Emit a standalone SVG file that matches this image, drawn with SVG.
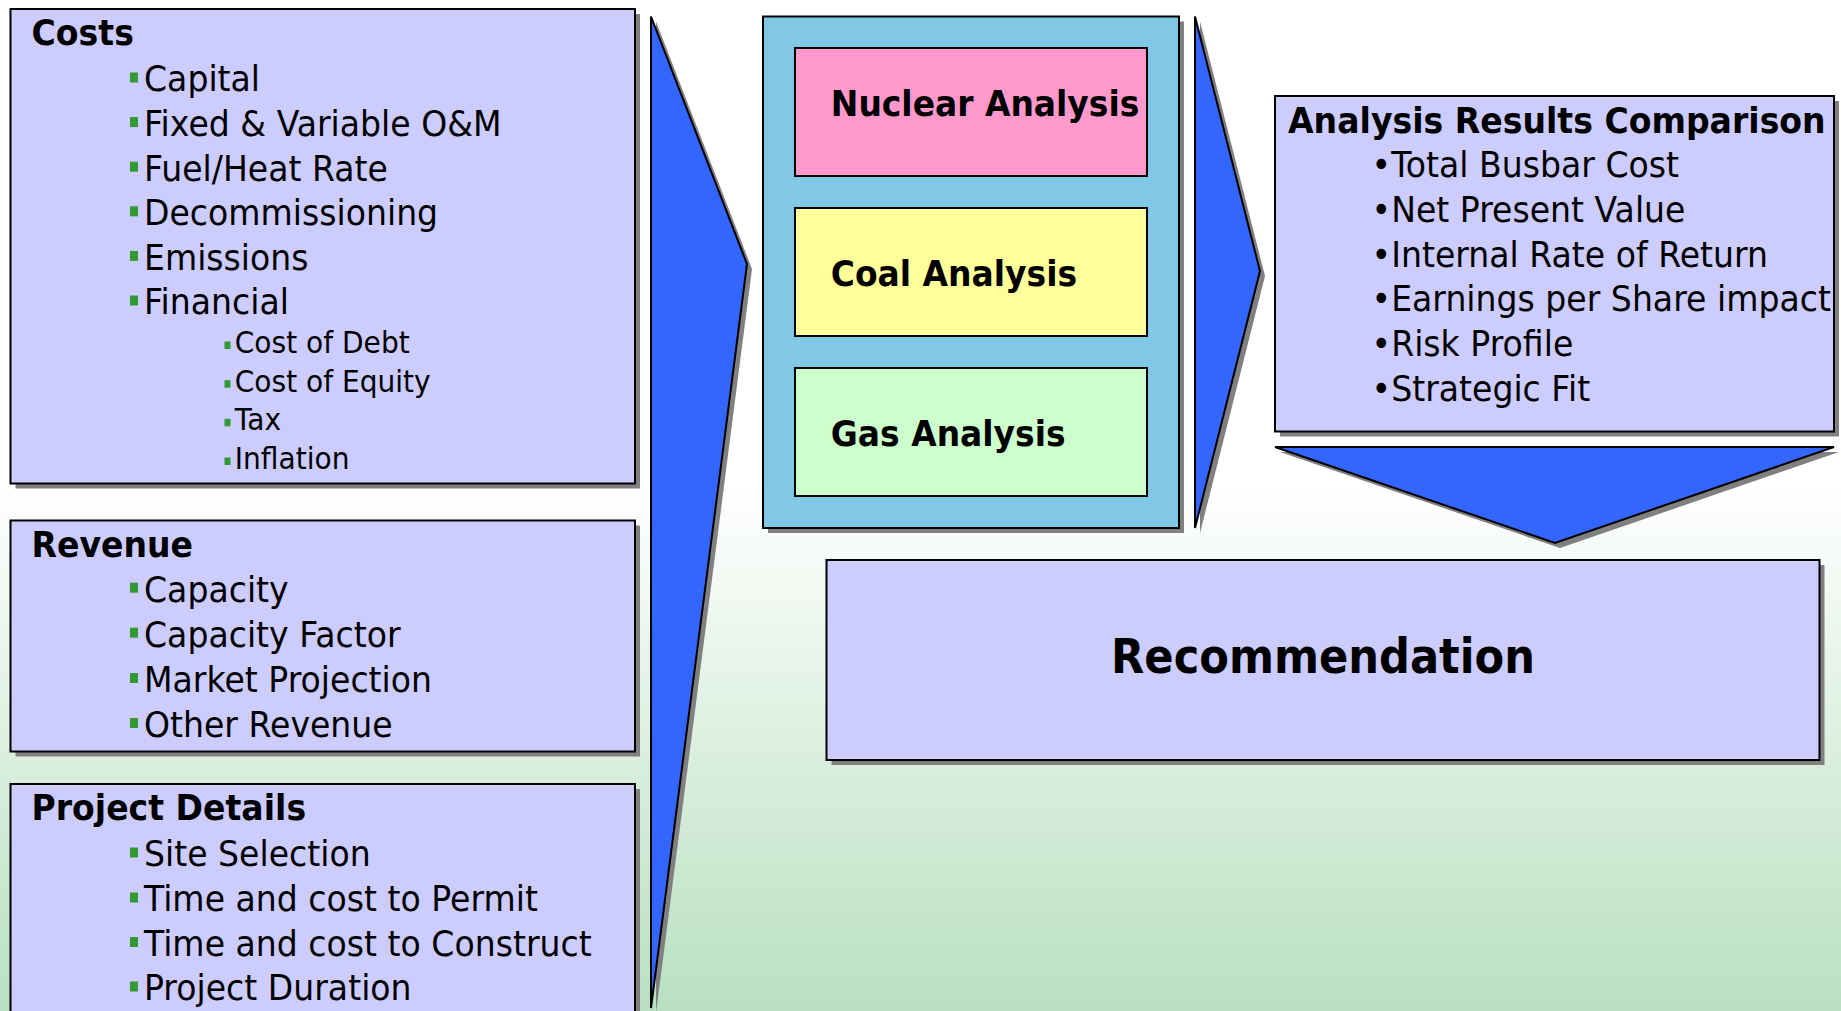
<svg xmlns="http://www.w3.org/2000/svg" width="1841" height="1011" viewBox="0 0 1841 1011">
<defs>
<linearGradient id="bg" x1="0" y1="0" x2="0" y2="1">
<stop offset="0" stop-color="#FFFFFF"/>
<stop offset="0.48" stop-color="#FFFFFF"/>
<stop offset="1" stop-color="#B8E0C0"/>
</linearGradient>
</defs>
<style>
.box{fill:#CCCCFF;stroke:#000;stroke-width:2}
.sh{fill:#808080}
.arr{fill:#3366FF;stroke:#000;stroke-width:2;stroke-linejoin:miter}
.t{font-family:"DejaVu Sans","Verdana",sans-serif;font-size:36px;fill:#000}
.b{font-weight:bold}
.s{font-size:30.5px}
.big{font-size:48px;font-weight:bold}
.bul{fill:#339933}
</style>
<rect x="0" y="0" width="1841" height="1011" fill="url(#bg)"/>

<g id="connectors">
<polygon class="sh" points="656,21.5 752,269 656,1013"/>
<polygon class="arr" points="651,16.5 747,264 651,1008"/>
<polygon class="sh" points="1200,21.5 1265,276 1200,533"/>
<polygon class="arr" points="1195,16.5 1260,271 1195,528"/>
<polygon class="sh" points="1280,452 1839,452 1560,548"/>
<polygon class="arr" points="1275,447 1834,447 1555,543"/>
</g>

<g id="costs">
<rect class="sh" x="15.5" y="14" width="624.5" height="474.5"/>
<rect class="box" x="10.5" y="9" width="624.5" height="474.5"/>
<rect class="bul" x="130" y="72.5" width="8" height="10"/>
<rect class="bul" x="130" y="117.1" width="8" height="10"/>
<rect class="bul" x="130" y="161.7" width="8" height="10"/>
<rect class="bul" x="130" y="206.3" width="8" height="10"/>
<rect class="bul" x="130" y="250.9" width="8" height="10"/>
<rect class="bul" x="130" y="295.5" width="8" height="10"/>
<rect class="bul" x="224.5" y="341.5" width="6" height="7.5"/>
<rect class="bul" x="224.5" y="380.2" width="6" height="7.5"/>
<rect class="bul" x="224.5" y="418.8" width="6" height="7.5"/>
<rect class="bul" x="224.5" y="457.5" width="6" height="7.5"/>
<g transform="scale(0.92,1)">
<text class="t b" x="34.3" y="45">Costs</text>
<text class="t" x="156.5" y="91.5">Capital</text>
<text class="t" x="156.5" y="136.1">Fixed &amp; Variable O&amp;M</text>
<text class="t" x="156.5" y="180.7">Fuel/Heat Rate</text>
<text class="t" x="156.5" y="225.3">Decommissioning</text>
<text class="t" x="156.5" y="269.9">Emissions</text>
<text class="t" x="156.5" y="314.5">Financial</text>
<text class="t s" x="255.2" y="353">Cost of Debt</text>
<text class="t s" x="255.2" y="391.7">Cost of Equity</text>
<text class="t s" x="255.2" y="430.3">Tax</text>
<text class="t s" x="255.2" y="469">Inflation</text>
</g>
</g>

<g id="revenue">
<rect class="sh" x="15.5" y="525.5" width="624.5" height="231"/>
<rect class="box" x="10.5" y="520.5" width="624.5" height="231"/>
<rect class="bul" x="130" y="582.7" width="8" height="10"/>
<rect class="bul" x="130" y="627.7" width="8" height="10"/>
<rect class="bul" x="130" y="673" width="8" height="10"/>
<rect class="bul" x="130" y="718" width="8" height="10"/>
<g transform="scale(0.92,1)">
<text class="t b" x="34.2" y="556.7">Revenue</text>
<text class="t" x="156.5" y="601.7">Capacity</text>
<text class="t" x="156.5" y="646.7">Capacity Factor</text>
<text class="t" x="156.5" y="692">Market Projection</text>
<text class="t" x="156.5" y="737">Other Revenue</text>
</g>
</g>

<g id="project-details">
<rect class="sh" x="15.5" y="789" width="624.5" height="240"/>
<rect class="box" x="10.5" y="784" width="624.5" height="240"/>
<rect class="bul" x="130" y="847.5" width="8" height="10"/>
<rect class="bul" x="130" y="892.5" width="8" height="10"/>
<rect class="bul" x="130" y="937" width="8" height="10"/>
<rect class="bul" x="130" y="981.5" width="8" height="10"/>
<g transform="scale(0.92,1)">
<text class="t b" x="34.2" y="820">Project Details</text>
<text class="t" x="156.5" y="866.5">Site Selection</text>
<text class="t" x="156.5" y="911.5">Time and cost to Permit</text>
<text class="t" x="156.5" y="956">Time and cost to Construct</text>
<text class="t" x="156.5" y="1000.5">Project Duration</text>
</g>
</g>

<g id="analysis-container">
<rect class="sh" x="768" y="21.5" width="416" height="511.5"/>
<rect x="763" y="16.5" width="416" height="511.5" fill="#80C8E6" stroke="#000" stroke-width="2"/>
</g>

<g id="nuclear">
<rect x="795" y="48" width="352" height="128" fill="#FF99CC" stroke="#000" stroke-width="2"/>
<text class="t b" transform="scale(0.915,1)" x="908" y="116">Nuclear Analysis</text>
</g>

<g id="coal">
<rect x="795" y="208" width="352" height="128" fill="#FFFF99" stroke="#000" stroke-width="2"/>
<text class="t b" transform="scale(0.915,1)" x="908" y="285.7">Coal Analysis</text>
</g>

<g id="gas">
<rect x="795" y="368" width="352" height="128" fill="#CCFFCC" stroke="#000" stroke-width="2"/>
<text class="t b" transform="scale(0.915,1)" x="908" y="446.4">Gas Analysis</text>
</g>

<g id="results">
<rect class="sh" x="1280" y="101" width="559" height="335.5"/>
<rect class="box" x="1275" y="96" width="559" height="335.5"/>
<g transform="scale(0.92,1)">
<text class="t b" x="1400" y="133.3">Analysis Results Comparison</text>
<text class="t" x="1490.9" y="177.3">•Total Busbar Cost</text>
<text class="t" x="1490.9" y="222">•Net Present Value</text>
<text class="t" x="1490.9" y="267">•Internal Rate of Return</text>
<text class="t" x="1490.9" y="311.5">•Earnings per Share impact</text>
<text class="t" x="1490.9" y="356">•Risk Profile</text>
<text class="t" x="1490.9" y="400.7">•Strategic Fit</text>
</g>
</g>

<g id="recommendation">
<rect class="sh" x="831.5" y="565" width="993" height="200"/>
<rect class="box" x="826.5" y="560" width="993" height="200"/>
<text class="t big" transform="scale(0.9,1)" x="1470" y="673.5" text-anchor="middle">Recommendation</text>
</g>
</svg>
